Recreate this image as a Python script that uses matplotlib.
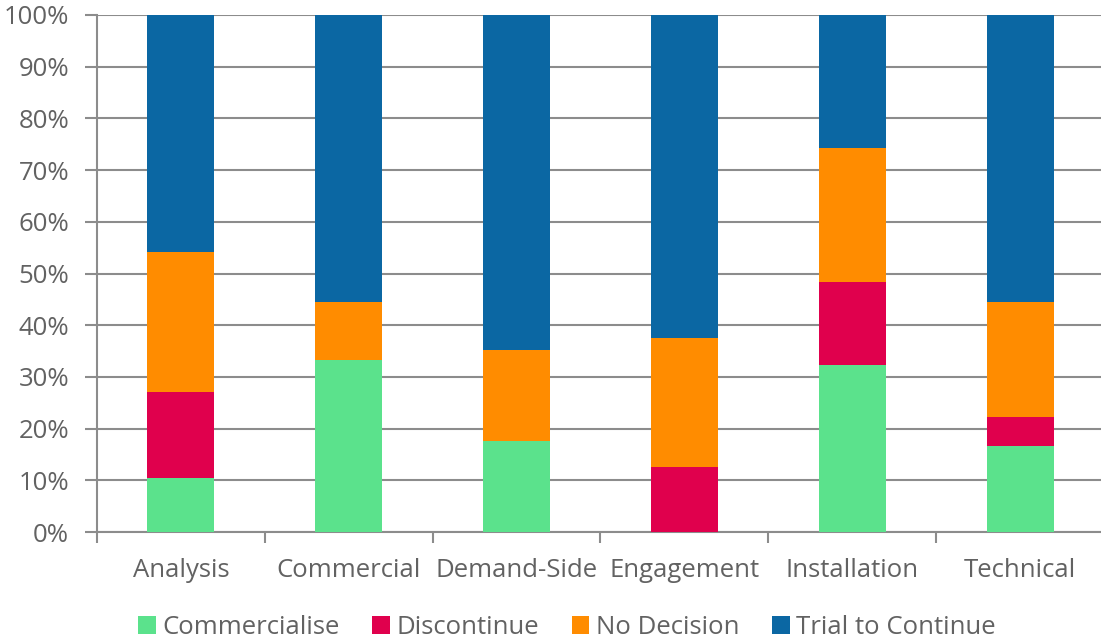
import matplotlib
matplotlib.use("Agg")
import matplotlib.pyplot as plt
import numpy as np
from matplotlib.ticker import FixedLocator, PercentFormatter

categories = ["Analysis", "Commercial", "Demand-Side", "Engagement", "Installation", "Technical"]
series_names = ["Commercialise", "Discontinue", "No Decision", "Trial to Continue"]
commercialise = [10.4, 33.3, 17.6, 0.0, 32.3, 16.7]
discontinue = [16.7, 0.0, 0.0, 12.5, 16.1, 5.6]
no_decision = [27.1, 11.1, 17.6, 25.0, 25.8, 22.2]
trial_to_continue = [45.8, 55.6, 64.8, 62.5, 25.8, 55.5]
colors = ["#5BE28C", "#E0004D", "#FF8C00", "#0B67A3"]

plt.rcParams['font.family'] = ['Open Sans', 'DejaVu Sans']
text_color = "#626262"
grid_color = "#8C8C8C"
fs = 18.5

fig = plt.figure(figsize=(11.01, 6.43), dpi=100)
ax = fig.add_axes([97/1101, 1 - 532/643, 1007/1101, (532 - 15)/643])

x = np.arange(len(categories))
bottom = np.zeros(len(categories))
for name, vals, c in zip(series_names, [commercialise, discontinue, no_decision, trial_to_continue], colors):
    ax.bar(x, vals, width=0.4, bottom=bottom, color=c, label=name, zorder=3)
    bottom += np.array(vals)

ax.set_xlim(-0.5, len(categories) - 0.5)
ax.set_ylim(0, 100)
ax.yaxis.set_major_locator(FixedLocator(np.arange(0, 101, 10)))
ax.yaxis.set_major_formatter(PercentFormatter(decimals=0))
ax.grid(axis='y', color=grid_color, linewidth=1.5, zorder=0)
ax.set_axisbelow(True)

for s in ['top', 'right']:
    ax.spines[s].set_visible(False)
ax.spines['left'].set_color(grid_color)
ax.spines['left'].set_linewidth(1.5)
ax.spines['bottom'].set_color(grid_color)
ax.spines['bottom'].set_linewidth(1.5)

ax.set_xticks(x)
ax.set_xticklabels(categories)
ax.set_xticks(np.arange(-0.5, len(categories) + 0.5, 1), minor=True)
ax.tick_params(axis='x', which='major', length=0, pad=18.5, labelsize=fs, labelcolor=text_color)
ax.tick_params(axis='x', which='minor', length=8, width=1.5, color=grid_color)
ax.tick_params(axis='y', length=9, width=1.5, color=grid_color, pad=11, labelsize=fs, labelcolor=text_color)

leg = fig.legend(loc='center', bbox_to_anchor=(0.515, 1 - 627/643), ncol=4, frameon=False,
                 fontsize=fs, handlelength=0.7, handleheight=0.7, handletextpad=0.25, columnspacing=1.25)
for t in leg.get_texts():
    t.set_color(text_color)

fig.savefig("out.png", dpi=100)
